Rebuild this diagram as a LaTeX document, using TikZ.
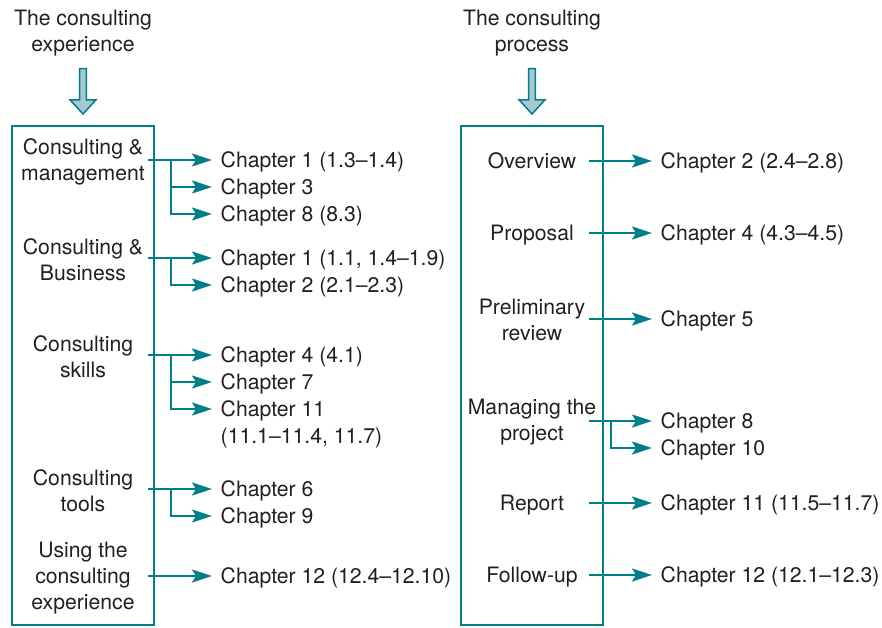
\documentclass[tikz,border=0pt]{standalone}
\usepackage{fontspec}
\setmainfont{TeX Gyre Heros}
\usetikzlibrary{arrows.meta}
\definecolor{teal1}{RGB}{0,126,138}
\definecolor{fillb}{RGB}{166,200,208}
\definecolor{txt}{RGB}{35,31,32}
\begin{document}
\begin{tikzpicture}[x=1pt,y=-1pt,
  every node/.style={text=txt, font=\fontsize{21.2}{26}\selectfont},
  lab/.style={align=center, inner sep=0pt},
  single/.style={inner sep=0pt, text height=15pt, text depth=0pt},
  chap/.style={anchor=west, inner xsep=8.5pt, inner ysep=0pt, text height=15pt, text depth=0pt},
  arr/.style={draw=teal1, line width=2pt, -{Stealth[length=20pt,width=13pt,inset=4pt]}},
  frame/.style={draw=teal1, line width=2pt, minimum width=142pt, minimum height=499pt, inner sep=0pt},
  blockarrow/.style={draw=teal1, fill=fillb, line width=1.5pt, line join=miter}]
\useasboundingbox (0,0) rectangle (882,628);

% titles
\node[lab] (t1) at (83,33) {The consulting\\experience};
\node[lab] (t2) at (532,33) {The consulting\\process};

% block arrows
\draw[blockarrow] (79.7,68.7) -- (86.3,68.7) -- (86.3,100) -- (95.8,100) -- (83,114) -- (70.2,100) -- (79.7,100) -- cycle;
\draw[blockarrow] (528.7,68.7) -- (535.3,68.7) -- (535.3,100) -- (544.8,100) -- (532,114) -- (519.2,100) -- (528.7,100) -- cycle;

% frames
\node[frame] (lbox) at (83,375.5) {};
\node[frame] (rbox) at (531.5,375.5) {};

% left labels
\node[lab] (l1) at (83,162) {Consulting \&\\management};
\node[lab] (l2) at (83,260) {Consulting \&\\Business};
\node[lab] (l3) at (83,357) {Consulting\\skills};
\node[lab] (l4) at (83,491) {Consulting\\tools};
\node[lab] (l5) at (83,578) {Using the\\consulting\\experience};

% left chapters
\node[chap] (c11) at (212,160) {Chapter 1 (1.3–1.4)};
\node[chap] (c12) at (212,187) {Chapter 3};
\node[chap] (c13) at (212,214) {Chapter 8 (8.3)};
\node[chap] (c21) at (212,258) {Chapter 1 (1.1, 1.4–1.9)};
\node[chap] (c22) at (212,285) {Chapter 2 (2.1–2.3)};
\node[chap] (c31) at (212,355) {Chapter 4 (4.1)};
\node[chap] (c32) at (212,382) {Chapter 7};
\node[chap] (c33) at (212,409) {Chapter 11};
\node[chap] (c33b) at (212,436) {(11.1–11.4, 11.7)};
\node[chap] (c41) at (212,489) {Chapter 6};
\node[chap] (c42) at (212,516) {Chapter 9};
\node[chap] (c51) at (212,576) {Chapter 12 (12.4–12.10)};

% left connectors
\coordinate (s1) at (148,160); \coordinate (b1) at (171,160);
\coordinate (s2) at (148,258); \coordinate (b2) at (171,258);
\coordinate (s3) at (148,355); \coordinate (b3) at (171,355);
\coordinate (s4) at (148,489); \coordinate (b4) at (171,489);
\coordinate (s5) at (148,576);
\draw[arr] (s1) -- (c11.west);
\draw[arr] (b1) |- (c12.west);
\draw[arr] (b1) |- (c13.west);
\draw[arr] (s2) -- (c21.west);
\draw[arr] (b2) |- (c22.west);
\draw[arr] (s3) -- (c31.west);
\draw[arr] (b3) |- (c32.west);
\draw[arr] (b3) |- (c33.west);
\draw[arr] (s4) -- (c41.west);
\draw[arr] (b4) |- (c42.west);
\draw[arr] (s5) -- (c51.west);

% right labels
\node[single] (r1) at (532,161) {Overview};
\node[single] (r2) at (532,233) {Proposal};
\node[lab] (r3) at (532,320) {Preliminary\\review};
\node[lab] (r4) at (532,422) {Managing the\\project};
\node[single] (r5) at (532,503) {Report};
\node[single] (r6) at (532,575) {Follow-up};

% right chapters
\node[chap] (d1) at (652,161) {Chapter 2 (2.4–2.8)};
\node[chap] (d2) at (652,233) {Chapter 4 (4.3–4.5)};
\node[chap] (d3) at (652,319) {Chapter 5};
\node[chap] (d41) at (652,421) {Chapter 8};
\node[chap] (d42) at (652,448) {Chapter 10};
\node[chap] (d5) at (652,503) {Chapter 11 (11.5–11.7)};
\node[chap] (d6) at (652,575) {Chapter 12 (12.1–12.3)};

% right connectors
\coordinate (u1) at (589,161);
\coordinate (u2) at (589,233);
\coordinate (u3) at (589,319);
\coordinate (u4) at (589,421); \coordinate (v4) at (611,421);
\coordinate (u5) at (589,503);
\coordinate (u6) at (589,575);
\draw[arr] (u1) -- (d1.west);
\draw[arr] (u2) -- (d2.west);
\draw[arr] (u3) -- (d3.west);
\draw[arr] (u4) -- (d41.west);
\draw[arr] (v4) |- (d42.west);
\draw[arr] (u5) -- (d5.west);
\draw[arr] (u6) -- (d6.west);
\end{tikzpicture}
\end{document}
